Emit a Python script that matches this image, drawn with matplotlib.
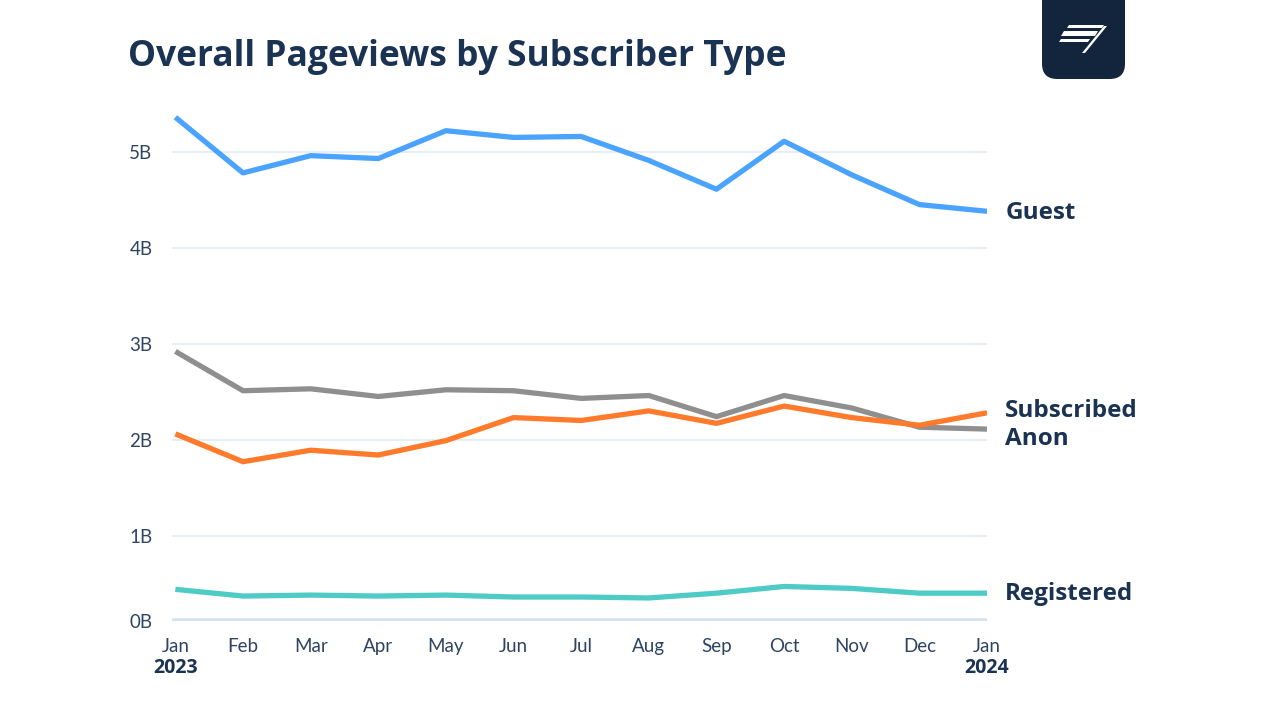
import numpy as np
import matplotlib.pyplot as plt
from matplotlib.patches import FancyBboxPatch, Polygon

plt.rcParams['font.family'] = ['Lato', 'DejaVu Sans']
bold_font = ['Open Sans', 'DejaVu Sans']

# values in billions of pageviews, monthly Jan 2023 - Jan 2024
months = ['Jan', 'Feb', 'Mar', 'Apr', 'May', 'Jun', 'Jul', 'Aug', 'Sep', 'Oct', 'Nov', 'Dec', 'Jan']
years = {0: '2023', 12: '2024'}
guest = [5.36, 4.78, 4.96, 4.93, 5.22, 5.15, 5.16, 4.91, 4.61, 5.11, 4.76, 4.45, 4.38]
anon = [2.92, 2.51, 2.53, 2.45, 2.52, 2.51, 2.43, 2.46, 2.24, 2.46, 2.33, 2.13, 2.11]
subscribed = [2.06, 1.77, 1.89, 1.84, 1.99, 2.23, 2.20, 2.30, 2.17, 2.35, 2.23, 2.15, 2.28]
registered = [0.44, 0.37, 0.38, 0.37, 0.38, 0.36, 0.36, 0.35, 0.40, 0.47, 0.45, 0.40, 0.40]

navy = '#1b3352'
tick_col = '#2e4462'
grid_col = '#dfe8f1'

fig = plt.figure(figsize=(12.8, 7.2), dpi=100)
W, H = 1280, 720
ax = fig.add_axes([172 / W, 1 - 621 / H, (987 - 172) / W, (621 - 100) / H])

x = np.arange(len(months))
ybot = 0.11
ax.set_xlim(-0.05, 12)
ax.set_ylim(ybot, 5.54)

for yv in [1, 2, 3, 4, 5]:
    ax.axhline(yv, color=grid_col, lw=1.1, zorder=1)
ax.axhline(ybot, color='#d6e4ef', lw=4, zorder=1)

lw = 3.8
ax.plot(x, guest, color='#4aa3ff', lw=lw, zorder=3, solid_capstyle='butt')
ax.plot(x, anon, color='#8f8f8f', lw=lw, zorder=3, solid_capstyle='butt')
ax.plot(x, subscribed, color='#ff7a2b', lw=lw, zorder=4, solid_capstyle='butt')
ax.plot(x, registered, color='#4ecbc5', lw=lw, zorder=3, solid_capstyle='butt')

for s in ax.spines.values():
    s.set_visible(False)
ax.set_yticks([ybot, 1, 2, 3, 4, 5])
ax.set_yticklabels(['0B', '1B', '2B', '3B', '4B', '5B'])
ax.set_xticks(x)
ax.set_xticklabels(months)
ax.tick_params(length=0, colors=tick_col, labelsize=13.5)
ax.tick_params(axis='y', pad=14)
ax.tick_params(axis='x', pad=12)

for i, yr in years.items():
    ax.annotate(yr, (i, ybot), xytext=(0, -34), textcoords='offset points',
                ha='center', va='center', fontsize=14, fontweight='bold', color=navy,
                family=bold_font, annotation_clip=False)

# end labels
lab_x = 12.27
lab_kw = dict(fontsize=17.5, fontweight='bold', color=navy, va='center', family=bold_font)
ax.text(lab_x, guest[-1] - 0.02, 'Guest', **lab_kw)
ax.text(lab_x, 2.30, 'Subscribed', **lab_kw)
ax.text(lab_x, 2.01, 'Anon', **lab_kw)
ax.text(lab_x, registered[-1] - 0.01, 'Registered', **lab_kw)

fig.text(128 / W, 1 - 57 / H, 'Overall Pageviews by Subscriber Type', fontsize=25.5,
         fontweight='bold', color=navy, va='center', ha='left', family=bold_font)

# logo badge
def fx(px):
    return px / W


def fy(py):
    return 1 - py / H


badge = FancyBboxPatch((fx(1042), fy(79)), fx(1125) - fx(1042), fy(-20) - fy(79),
                       boxstyle='round,pad=0,rounding_size=0.012', transform=fig.transFigure,
                       facecolor='#13243d', edgecolor='none', mutation_aspect=W / H)
fig.patches.append(badge)
shapes = [
    [(1069, 25), (1104, 25), (1102, 28), (1067, 28)],
    [(1064, 31), (1098, 31), (1095, 36), (1061, 36)],
    [(1061, 39), (1090, 39), (1088, 42), (1059, 42)],
    [(1104, 26), (1107, 26), (1085, 53), (1082, 53)],
]
for pts in shapes:
    fig.patches.append(Polygon([(fx(a), fy(b)) for a, b in pts], closed=True,
                               transform=fig.transFigure, facecolor='white', edgecolor='none'))

fig.savefig('out.png', dpi=100, facecolor='white')
